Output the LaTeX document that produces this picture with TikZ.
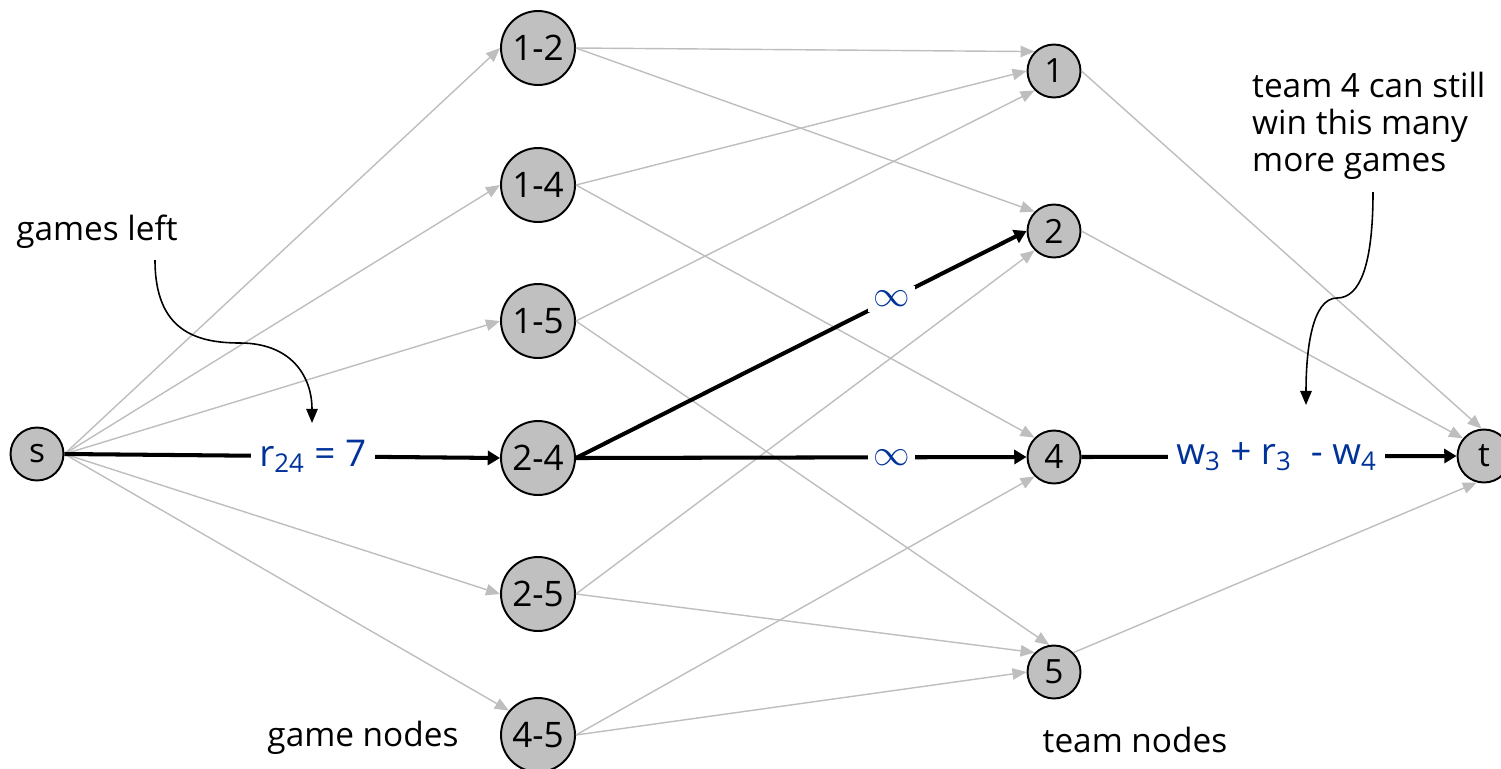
\documentclass[tikz,border=0pt]{standalone}
\usepackage{fontspec}
\setmainfont{Open Sans}
\usetikzlibrary{arrows.meta}
\definecolor{nodegray}{RGB}{192,192,192}
\definecolor{edgegray}{RGB}{190,190,190}
\definecolor{lblue}{RGB}{0,51,153}
\begin{document}
\begin{tikzpicture}[x=0.02cm,y=-0.02cm,
  game/.style={circle,draw=black,line width=1.1pt,fill=nodegray,minimum size=1.48cm,inner sep=0pt,font=\fontsize{20}{24}\selectfont},
  team/.style={circle,draw=black,line width=1.1pt,fill=nodegray,minimum size=1.06cm,inner sep=0pt,font=\fontsize{19}{23}\selectfont},
  gedge/.style={draw=edgegray,line width=0.8pt,-{Triangle[length=8pt,width=6.5pt]}},
  bedge/.style={draw=black,line width=2.3pt,-{Triangle[length=7pt,width=8pt]}},
  blbl/.style={fill=white,text=lblue,inner sep=5pt,font=\fontsize{21}{25}\selectfont},
  note/.style={font=\fontsize{19}{21}\selectfont,align=left},
  annot/.style={draw=black,line width=0.9pt,-{Triangle[length=8pt,width=6.5pt]}}]
\useasboundingbox (0,0) rectangle (1501,768);

% nodes
\node[team] (s) at (37,454) {s};
\node[game] (g12) at (538,48) {1-2};
\node[game] (g14) at (538,185) {1-4};
\node[game] (g15) at (538,321) {1-5};
\node[game] (g24) at (538,458) {2-4};
\node[game] (g25) at (538,594) {2-5};
\node[game] (g45) at (538,735) {4-5};
\node[team] (t1) at (1054,71) {1};
\node[team] (t2) at (1054,231) {2};
\node[team] (t4) at (1054,457) {4};
\node[team] (t5) at (1054,672) {5};
\node[team] (t) at (1484,456) {t};

% text labels
\node[note] (gl) at (97,232) {games left};
\node[note,anchor=north west] (tn4) at (1246,66) {team 4 can still\\win this many\\more games};
\node[note] (gn) at (363,738) {game nodes};
\node[note] (tn) at (1135,740) {team nodes};

% source edges
\draw[gedge] (s.east) -- (g12.west);
\draw[gedge] (s.east) -- (g14.west);
\draw[gedge] (s.east) -- (g15.west);
\draw[gedge] (s.east) -- (g25.west);
\draw[gedge] (s.east) -- (g45.140);

% game to team
\draw[gedge] (g12.east) -- (t1.135);
\draw[gedge] (g12.east) -- (t2.135);
\draw[gedge] (g14.east) -- (t1.west);
\draw[gedge] (g14.east) -- (t4.135);
\draw[gedge] (g15.east) -- (t1.225);
\draw[gedge] (g15.east) -- (t5.100);
\draw[gedge] (g25.east) -- (t2.225);
\draw[gedge] (g25.east) -- (t5.135);
\draw[gedge] (g45.east) -- (t4.225);
\draw[gedge] (g45.east) -- (t5.west);

% team to sink
\draw[gedge] (t1.east) -- (t.95);
\draw[gedge] (t2.east) -- (t.140);
\draw[gedge] (t5.45) -- (t.255);

% highlighted path
\draw[bedge] (s.east) -- node[blbl,pos=0.57] (l1) {r\textsubscript{24} = 7} (g24.west);
\draw[bedge] (g24.east) -- node[blbl,pos=0.70,inner sep=3pt] (l2) {$\infty$} (t2.west);
\draw[bedge] (g24.east) -- node[blbl,pos=0.70,inner sep=3pt] (l3) {$\infty$} (t4.west);
\draw[bedge] (t4.east) -- node[blbl,pos=0.52] (l4) {w\textsubscript{3} + r\textsubscript{3} \ - w\textsubscript{4}} (t.west);

% annotation arrows
\coordinate (a1s) at (155,260);
\coordinate (a1m) at (240,343);
\coordinate (a1e) at (312,423);
\draw[annot] (a1s) .. controls (155,330) and (195,343) .. (a1m) .. controls (290,343) and (312,375) .. (a1e);
\coordinate (a2s) at (1373,192);
\coordinate (a2m) at (1337,298);
\coordinate (a2e) at (1306,405);
\draw[annot] (a2s) .. controls (1373,265) and (1360,298) .. (a2m) .. controls (1312,298) and (1306,350) .. (a2e);
\end{tikzpicture}
\end{document}
